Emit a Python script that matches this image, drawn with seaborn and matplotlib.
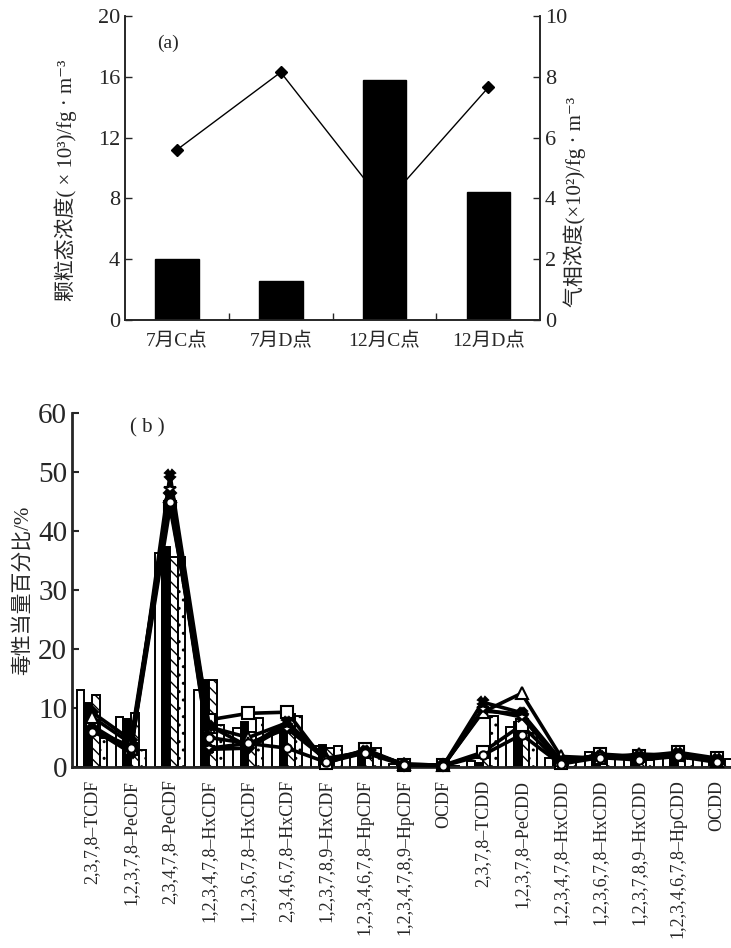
import numpy as np
import pandas as pd
import matplotlib
matplotlib.use('Agg')
import matplotlib.pyplot as plt
import seaborn as sns

# ---- panel (a) data ----
sites = ['7月C点', '7月D点', '12月C点', '12月D点']
particle = [4.0, 2.6, 15.8, 8.4]        # x10^3 fg/m3
gas = [5.6, 8.15, 3.8, 7.65]            # x10^2 fg/m3

# ---- panel (b) data ----
congeners = ['2,3,7,8–TCDF', '1,2,3,7,8–PeCDF', '2,3,4,7,8–PeCDF',
             '1,2,3,4,7,8–HxCDF', '1,2,3,6,7,8–HxCDF', '2,3,4,6,7,8–HxCDF',
             '1,2,3,7,8,9–HxCDF', '1,2,3,4,6,7,8–HpCDF', '1,2,3,4,7,8,9–HpCDF',
             'OCDF', '2,3,7,8–TCDD', '1,2,3,7,8–PeCDD', '1,2,3,4,7,8–HxCDD',
             '1,2,3,6,7,8–HxCDD', '1,2,3,7,8,9–HxCDD', '1,2,3,4,6,7,8–HpCDD',
             'OCDD']

bar_white = [13.0, 8.5, 36.2, 13.0, 6.6, 6.3, 3.6, 2.0, 0.5, 0.2, 1.0, 6.8, 1.5, 2.5, 1.5, 1.8, 1.2]
bar_black = [10.8, 8.1, 37.3, 14.7, 7.6, 7.2, 3.7, 2.3, 0.6, 0.2, 0.6, 7.6, 1.6, 1.8, 1.8, 2.0, 1.0]
bar_hatch = [12.2, 9.1, 35.6, 14.7, 6.0, 9.0, 3.2, 2.8, 0.4, 0.1, 3.3, 5.8, 1.4, 1.6, 1.4, 2.2, 1.1]
bar_dots = [4.9, 2.9, 35.6, 7.1, 8.3, 8.6, 3.6, 3.3, 0.5, 0.1, 8.6, 5.8, 1.0, 1.5, 1.2, 2.0, 1.3]

line_diamond = [9.3, 4.6, 46.5, 3.0, 3.2, 7.0, 1.2, 2.8, 0.4, 0.3, 9.5, 9.0, 1.0, 2.0, 1.5, 2.3, 1.2]
line_square = [7.0, 3.0, 44.0, 8.0, 9.1, 9.3, 0.6, 3.0, 0.4, 0.3, 2.5, 7.1, 0.6, 2.2, 1.8, 2.5, 1.5]
line_triangle = [8.5, 4.0, 46.0, 6.8, 5.0, 7.5, 1.5, 2.5, 0.5, 0.3, 9.3, 12.5, 1.8, 1.5, 2.2, 2.0, 1.0]
line_x = [6.5, 2.4, 49.5, 7.0, 3.5, 7.6, 1.0, 2.7, 0.4, 0.3, 11.0, 9.2, 1.2, 1.8, 1.8, 2.3, 1.3]
line_star = [6.3, 3.5, 47.2, 3.2, 4.0, 6.5, 1.3, 2.6, 0.5, 0.3, 9.8, 8.5, 0.8, 2.1, 1.4, 2.1, 1.0]
line_circle = [6.0, 3.2, 45.0, 5.0, 4.0, 3.2, 0.8, 2.4, 0.3, 0.2, 2.0, 5.5, 0.5, 1.6, 1.2, 1.8, 0.8]

sns.set_style('ticks')
plt.rcParams['font.family'] = ['Liberation Serif', 'Noto Sans CJK SC', 'DejaVu Sans']
plt.rcParams['hatch.linewidth'] = 1.0
plt.rcParams['axes.linewidth'] = 1.2

fig = plt.figure(figsize=(7.31, 9.48), dpi=100)

# ================= panel (a) =================
ax = fig.add_axes([0.171, 0.6624, 0.568, 0.3207])
ax2 = ax.twinx()

sns.barplot(x=sites, y=particle, color='black', width=0.42, edgecolor='black',
            saturation=1, ax=ax)
ax2.plot(range(len(sites)), gas, color='black', lw=1.0, marker='D', ms=6)

# bars drawn over the line
ax.set_zorder(ax2.get_zorder() + 1)
ax.patch.set_visible(False)

ax.set_xlim(-0.5, 3.5)
ax.set_ylim(0, 20)
ax.set_yticks([0, 4, 8, 12, 16, 20])
ax2.set_ylim(0, 10)
ax2.set_yticks([0, 2, 4, 6, 8, 10])
ax.set_xticks(range(4))
ax.set_xticklabels(sites, fontsize=14)
ax.set_xticks([0.5, 1.5, 2.5], minor=True)
ax.tick_params(axis='x', which='major', length=0, pad=9)
ax.tick_params(axis='x', which='minor', direction='in', length=5, width=1)
ax.tick_params(axis='y', direction='in', length=5, width=1, labelsize=16)
ax2.tick_params(axis='y', direction='in', length=5, width=1, labelsize=16)
ax.spines['top'].set_visible(False)
ax2.spines['top'].set_visible(False)
ax.set_xlabel('')
ax.set_ylabel('颗粒态浓度( × 10³)/fg · m⁻³', fontsize=15)
ax.yaxis.set_label_coords(-0.115, 0.46)
ax2.set_ylabel('气相浓度(×10²)/fg · m⁻³', fontsize=15, rotation=90)
ax2.yaxis.set_label_coords(1.055, 0.39)
ax.text(0.077, 0.91, '(a)', transform=ax.transAxes, fontsize=14, va='center')

# ================= panel (b) =================
bx = fig.add_axes([0.0985, 0.1909, 0.9015, 0.3734])

groups = ['w', 'k', 'h', 'd']
df = pd.DataFrame({
    'congener': congeners * 4,
    'group': np.repeat(groups, len(congeners)),
    'value': bar_white + bar_black + bar_hatch + bar_dots,
})
sns.barplot(data=df, x='congener', y='value', hue='group', order=congeners,
            hue_order=groups, palette=['white', 'black', 'white', 'white'],
            width=0.78, edgecolor='black', linewidth=1.4, saturation=1,
            legend=False, ax=bx)
for cont, hatch in zip(bx.containers, [None, None, '\\\\\\', '..']):
    for p in cont:
        if hatch:
            p.set_hatch(hatch)

x_pos = np.arange(len(congeners))
line_specs = [
    (line_diamond, 'D', 'black', 6),
    (line_square, 's', 'white', 8),
    (line_triangle, '^', 'white', 8),
    (line_x, 'X', 'black', 7),
    (line_star, '*', 'white', 9),
    (line_circle, 'o', 'white', 6),
]
for vals, mk, fc, ms in line_specs:
    bx.plot(x_pos, vals, color='black', lw=2.6, marker=mk, ms=ms,
            markerfacecolor=fc, markeredgecolor='black', markeredgewidth=1.5,
            clip_on=False, zorder=5)

bx.set_xlim(-0.51, 16.36)
bx.set_ylim(0, 60)
bx.set_yticks(range(0, 61, 10))
bx.set_xticks(x_pos)
bx.set_xticklabels(congeners, rotation=90, fontsize=13)
bx.tick_params(axis='x', length=0, pad=9)
bx.tick_params(axis='y', direction='in', length=5, width=1.5, labelsize=21)
bx.spines['top'].set_visible(False)
bx.spines['right'].set_visible(False)
bx.spines['left'].set_linewidth(2)
bx.spines['bottom'].set_linewidth(2)
bx.set_xlabel('')
bx.set_ylabel('毒性当量百分比/%', fontsize=15, labelpad=4)
bx.text(0.088, 0.958, '( b )', transform=bx.transAxes, fontsize=15, va='center')

fig.savefig('out.png', dpi=100)
